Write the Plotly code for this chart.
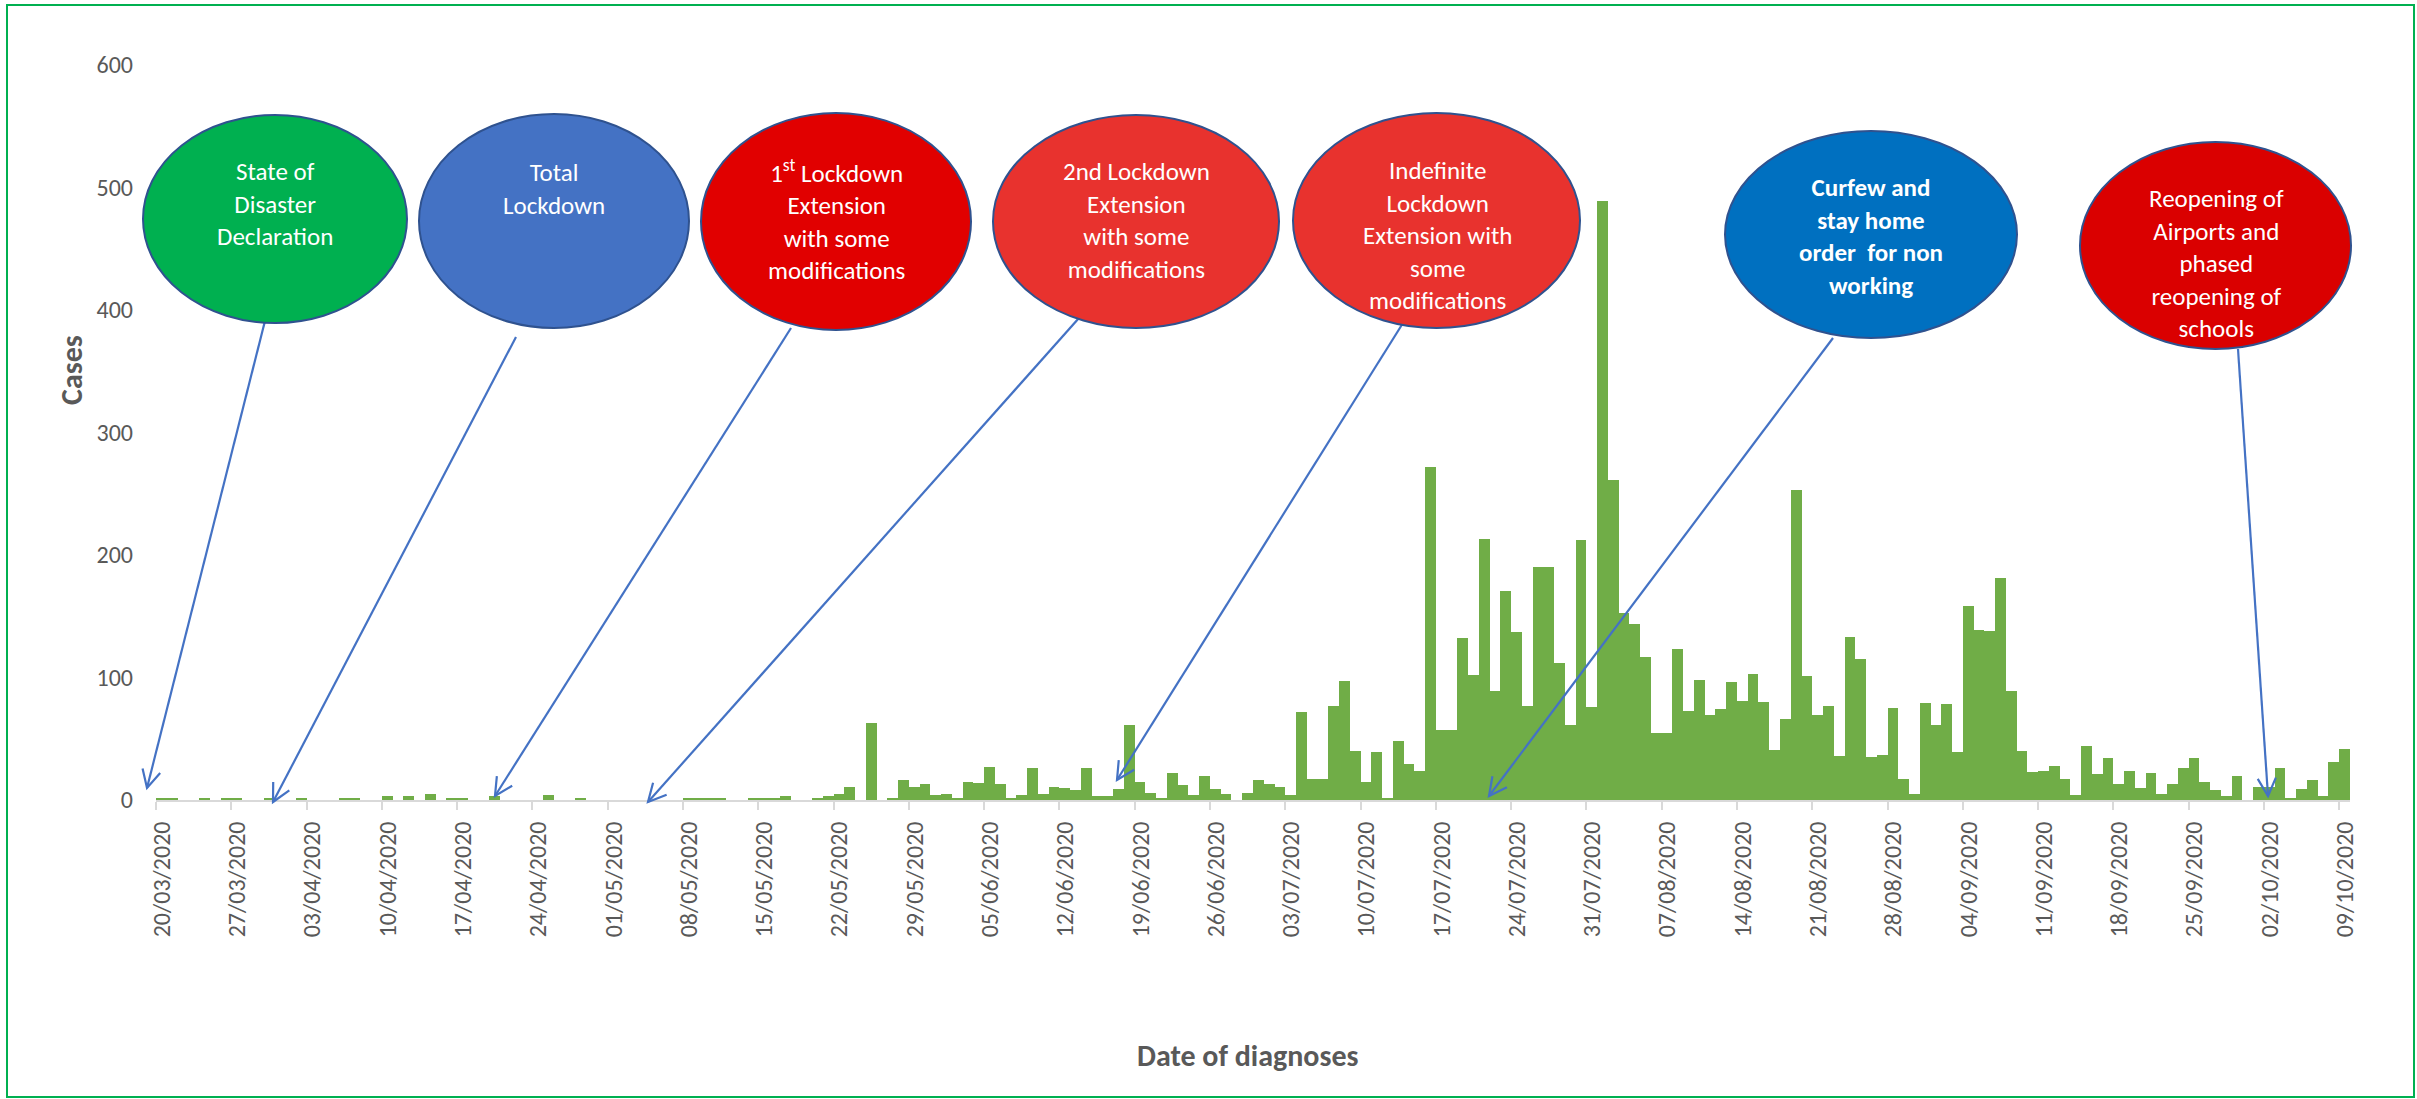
import math
import pandas as pd
import plotly.graph_objects as go

# ---------------- data ----------------
start_date = "2020-03-20"
cases = [
    1, 1, 0, 0, 1, 0, 2, 2, 0, 0,
    1, 0, 0, 1, 0, 0, 0, 1, 1, 0,
    0, 3, 0, 3, 0, 5, 0, 1, 1, 0,
    0, 3, 0, 0, 0, 0, 4, 0, 0, 2,
    0, 0, 0, 0, 0, 0, 0, 0, 0, 1,
    1, 1, 1, 0, 0, 2, 2, 1, 3, 0,
    0, 2, 3, 5, 11, 0, 63, 0, 2, 16,
    11, 13, 4, 5, 2, 15, 14, 27, 13, 2,
    4, 26, 5, 11, 10, 8, 26, 3, 3, 9,
    61, 15, 6, 2, 22, 12, 4, 20, 9, 5,
    0, 6, 16, 13, 11, 4, 72, 17, 17, 77,
    97, 40, 15, 39, 2, 48, 29, 24, 272, 57,
    57, 132, 102, 213, 89, 171, 137, 77, 190, 190,
    112, 61, 212, 76, 489, 261, 153, 144, 117, 55,
    55, 123, 73, 98, 69, 74, 96, 81, 103, 80,
    41, 66, 253, 101, 69, 77, 36, 133, 115, 35,
    37, 75, 17, 5, 79, 61, 78, 39, 158, 139,
    138, 181, 89, 40, 23, 24, 28, 17, 4, 44,
    21, 34, 13, 24, 10, 22, 5, 13, 26, 34,
    15, 8, 3, 20, 0, 11, 11, 26, 2, 9,
    16, 3, 31, 42,
]
tick_labels = [
    "20/03/2020", "27/03/2020", "03/04/2020", "10/04/2020", "17/04/2020",
    "24/04/2020", "01/05/2020", "08/05/2020", "15/05/2020", "22/05/2020",
    "29/05/2020", "05/06/2020", "12/06/2020", "19/06/2020", "26/06/2020",
    "03/07/2020", "10/07/2020", "17/07/2020", "24/07/2020", "31/07/2020",
    "07/08/2020", "14/08/2020", "21/08/2020", "28/08/2020", "04/09/2020",
    "11/09/2020", "18/09/2020", "25/09/2020", "02/10/2020", "09/10/2020",
]
event_labels = [
    "State of<br>Disaster<br>Declaration",
    "Total<br>Lockdown",
    "1<sup>st</sup> Lockdown<br>Extension<br>with some<br>modifications",
    "2nd Lockdown<br>Extension<br>with some<br>modifications",
    "Indefinite<br>Lockdown<br>Extension with<br>some<br>modifications",
    "<b>Curfew and<br>stay home<br>order  for non<br>working</b>",
    "Reopening of<br>Airports and<br>phased<br>reopening of<br>schools",
]

dates = pd.date_range(start_date, periods=len(cases), freq="D")
tick_dates = pd.to_datetime(tick_labels, format="%d/%m/%Y")
x_end = dates[-1] + pd.Timedelta(days=1)

# ---------------- layout geometry (pixels) ----------------
W, H = 2417, 1099
PL, PR, PT, PB = 156, 2350, 65, 800


def fx(x):
    return (x - PL) / (PR - PL)


def fy(y):
    return (PB - y) / (PB - PT)


FONT = "Calibri, Carlito, Lato, 'Open Sans', sans-serif"
GREY = "#595959"

# ellipse boxes (x0, x1, y0, y1), fills, text centres, arrow tail & tip
ellipse_boxes = [
    (143, 407, 115, 323),
    (419, 689, 114, 328),
    (701, 971, 113, 330),
    (993, 1279, 115, 328),
    (1293, 1580, 113, 328),
    (1725, 2017, 131, 338),
    (2080, 2351, 142, 349),
]
ellipse_fills = ["#00B050", "#4472C4", "#E10000", "#E8322E", "#E8322E", "#0070C0", "#DA0000"]
text_centres = [(275, 204), (554, 189), (836, 220), (1136, 220), (1437, 235), (1871, 236), (2216, 263)]
arrow_tails = [(267, 313), (516, 337), (791, 328), (1087, 309), (1403, 323), (1833, 338), (2238, 349)]
arrow_tips = [(147, 788), (273, 802), (495, 796), (648, 802), (1117, 780), (1489, 796), (2268, 796)]

fig = go.Figure(
    go.Bar(
        x=dates,
        y=cases,
        xperiod=86400000,
        xperiodalignment="middle",
        marker=dict(color="#70AD47", line=dict(width=0)),
        showlegend=False,
    )
)

shapes = []
annotations = []

# outer chart border
shapes.append(dict(type="rect", xref="paper", yref="paper",
                   x0=fx(7), x1=fx(2414), y0=fy(1097), y1=fy(5),
                   line=dict(color="#00B050", width=2), fillcolor="rgba(0,0,0,0)", layer="below"))

ARROW = "#4472C4"
for (tx, ty), (hx, hy) in zip(arrow_tails, arrow_tips):
    shapes.append(dict(type="line", xref="paper", yref="paper",
                       x0=fx(tx), y0=fy(ty), x1=fx(hx), y1=fy(hy),
                       line=dict(color=ARROW, width=2.2)))
    dx, dy = tx - hx, ty - hy
    n = math.hypot(dx, dy)
    ux, uy = dx / n, dy / n
    pts = []
    for ang in (math.radians(27), math.radians(-27)):
        rx = ux * math.cos(ang) - uy * math.sin(ang)
        ry = ux * math.sin(ang) + uy * math.cos(ang)
        pts.append((hx + 20 * rx, hy + 20 * ry))
    path = "M{:.5f},{:.5f} L{:.5f},{:.5f} L{:.5f},{:.5f}".format(
        fx(pts[0][0]), fy(pts[0][1]), fx(hx), fy(hy), fx(pts[1][0]), fy(pts[1][1]))
    shapes.append(dict(type="path", xref="paper", yref="paper", path=path,
                       line=dict(color=ARROW, width=2.2)))

for (x0, x1, y0, y1), fill in zip(ellipse_boxes, ellipse_fills):
    shapes.append(dict(type="circle", xref="paper", yref="paper",
                       x0=fx(x0), x1=fx(x1), y0=fy(y1), y1=fy(y0),
                       fillcolor=fill, line=dict(color="#2F528F", width=2)))

for label, (cx, cy) in zip(event_labels, text_centres):
    annotations.append(dict(xref="paper", yref="paper", x=fx(cx), y=fy(cy),
                            text=label, showarrow=False, xanchor="center", yanchor="middle",
                            align="center", font=dict(family=FONT, size=25, color="white")))

annotations.append(dict(xref="paper", yref="paper", x=fx(71), y=fy(370), text="<b>Cases</b>",
                        textangle=-90, showarrow=False, xanchor="center", yanchor="middle",
                        font=dict(family=FONT, size=30, color=GREY)))
annotations.append(dict(xref="paper", yref="paper", x=fx(1248), y=fy(1055), text="<b>Date of diagnoses</b>",
                        showarrow=False, xanchor="center", yanchor="middle",
                        font=dict(family=FONT, size=30, color=GREY)))

fig.update_layout(
    width=W, height=H,
    margin=dict(l=PL, r=W - PR, t=PT, b=H - PB, autoexpand=False),
    paper_bgcolor="white", plot_bgcolor="white",
    bargap=0,
    shapes=shapes,
    annotations=annotations,
    font=dict(family=FONT, color=GREY),
    xaxis=dict(
        type="date",
        range=[dates[0], x_end],
        tickmode="array",
        tickvals=tick_dates,
        ticktext=tick_labels,
        tickangle=-90,
        ticks="outside", ticklen=8, tickwidth=1.5, tickcolor="#D9D9D9",
        showline=True, linecolor="#D9D9D9", linewidth=1.8,
        showgrid=False, zeroline=False,
        tickfont=dict(family=FONT, size=24, color=GREY),
        ticklabelshift=6,
        ticklabelstandoff=2,
    ),
    yaxis=dict(
        range=[0, 600], dtick=100, tick0=0,
        showgrid=False, zeroline=False, showline=False, ticks="",
        tickfont=dict(family=FONT, size=24, color=GREY),
        ticklabelstandoff=22,
    ),
)

fig.write_html("out.html")
